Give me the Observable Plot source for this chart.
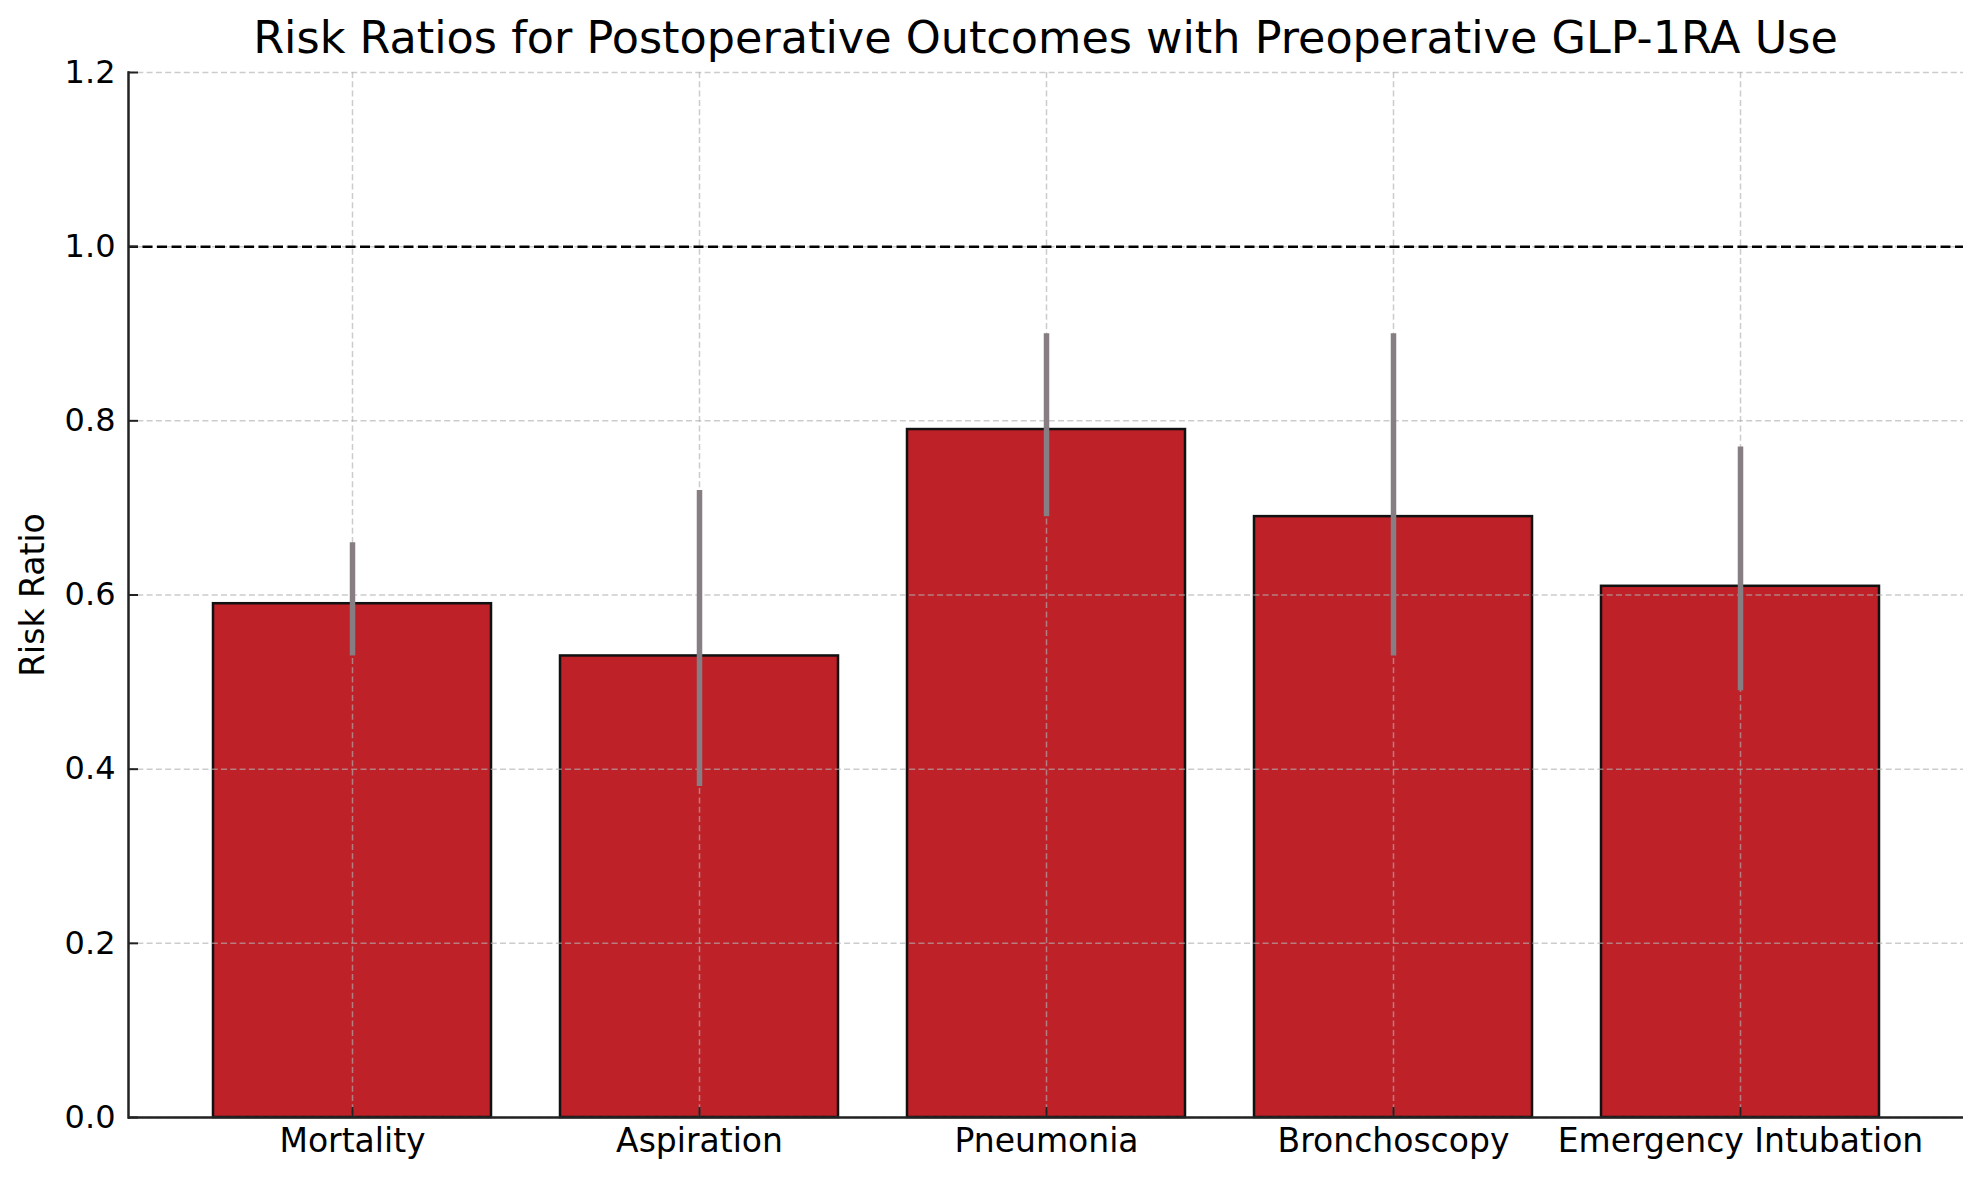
<!DOCTYPE html>
<html>
<head>
<meta charset="utf-8">
<script src="https://cdn.jsdelivr.net/npm/d3@7"></script>
<script src="https://cdn.jsdelivr.net/npm/@observablehq/plot@0.6"></script>
<style>
  body { margin: 0; background: white; font-family: "DejaVu Sans", sans-serif; }
  #title { height: 36px; box-sizing: border-box; padding-left: 128px; padding-right: 16px; text-align: center; font-size: 44.5px; line-height: 36px; color: #000; white-space: nowrap; }
  #title span { position: relative; top: 20px; z-index: 2; }
</style>
</head>
<body>
<div id="title"><span>Risk Ratios for Postoperative Outcomes with Preoperative GLP-1RA Use</span></div>
<div id="chart"></div>
<script>
const categories = ["Mortality", "Aspiration", "Pneumonia", "Bronchoscopy", "Emergency Intubation"];
const riskRatios = [0.59, 0.53, 0.79, 0.69, 0.61];
const ciLower = [0.53, 0.38, 0.69, 0.53, 0.49];
const ciUpper = [0.66, 0.72, 0.90, 0.90, 0.77];
const yTicks = [0, 0.2, 0.4, 0.6, 0.8, 1.0, 1.2];
const referenceLine = [1.0];

const data = categories.map((c, i) => ({category: c, rr: riskRatios[i], lo: ciLower[i], hi: ciUpper[i]}));

const W = 1979, H = 1144;
const mL = 128, mR = 16, mT = 36, mB = 63;
const plotW = W - mL - mR, plotH = H - mT - mB;
const gridStyle = {stroke: "#b0b0b0", strokeOpacity: 0.65, strokeWidth: 1.5, strokeDasharray: "6,3.3"};

const chart = Plot.plot({
  width: W,
  height: H,
  marginLeft: mL,
  marginRight: mR,
  marginTop: mT,
  marginBottom: mB,
  style: {fontFamily: "DejaVu Sans", background: "transparent", color: "#000"},
  x: {type: "band", domain: categories, paddingInner: 0.2, paddingOuter: 0.24, axis: null},
  y: {domain: [0, 1.2], axis: null},
  marks: [
    Plot.barY(data, {x: "category", y: "rr", fill: "#bf2129", stroke: "#111", strokeWidth: 2.5}),
    Plot.gridX(categories, {...gridStyle}),
    Plot.gridY(yTicks, {...gridStyle}),
    Plot.ruleX(data, {x: "category", y1: "lo", y2: "hi", stroke: "#867e82", strokeWidth: 5.5}),
    Plot.ruleY(referenceLine, {stroke: "#000", strokeWidth: 2.5, strokeDasharray: "10,4.5"}),
    Plot.ruleY([0], {stroke: "#222", strokeWidth: 2.5}),
    Plot.frame({anchor: "left", stroke: "#222", strokeWidth: 2.5}),
    Plot.tickY(yTicks, {y: d => d, stroke: "#222", strokeWidth: 2, insetRight: plotW - 10}),
    Plot.tickX(categories, {x: d => d, stroke: "#222", strokeWidth: 2, insetTop: plotH - 10}),
    Plot.axisY(yTicks, {ticks: yTicks, tickFormat: d3.format(".1f"), tickSize: 0, tickPadding: 13, fontSize: 32, label: null, fill: "#000"}),
    Plot.axisX(categories, {tickSize: 0, tickPadding: 11, fontSize: 33, label: null, fill: "#000"}),
    Plot.text(["Risk Ratio"], {frameAnchor: "left", rotate: -90, dx: -95, textAnchor: "middle", lineAnchor: "middle", fontSize: 33, fill: "#000"})
  ]
});
document.getElementById("chart").appendChild(chart);
</script>
</body>
</html>
